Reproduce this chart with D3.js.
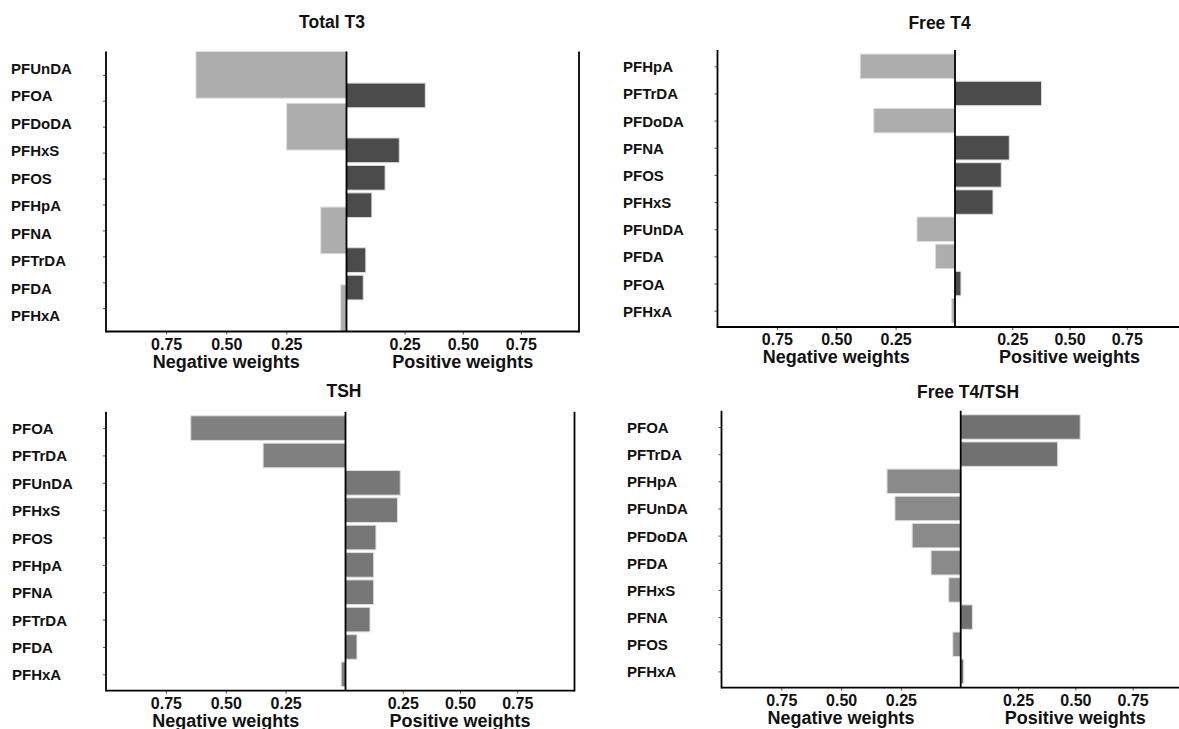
<!DOCTYPE html>
<html>
<head>
<meta charset="utf-8">
<script src="https://cdn.jsdelivr.net/npm/d3@7"></script>
<style>
  body { margin: 0; background: #fff; }
  svg text { font-family: "Liberation Sans", Arial, sans-serif; font-weight: bold; fill: #111; }
</style>
</head>
<body>
<svg id="chart" width="1179" height="729"></svg>
<script>
// Weights: negative sign = "Negative weights" side
const totalT3Labels = ['PFUnDA', 'PFOA', 'PFDoDA', 'PFHxS', 'PFOS', 'PFHpA', 'PFNA', 'PFTrDA', 'PFDA', 'PFHxA'];
const totalT3Weights = [-0.626, 0.339, -0.249, 0.227, 0.166, 0.109, -0.107, 0.083, 0.072, -0.024];

const freeT4Labels = ['PFHpA', 'PFTrDA', 'PFDoDA', 'PFNA', 'PFOS', 'PFHxS', 'PFUnDA', 'PFDA', 'PFOA', 'PFHxA'];
const freeT4Weights = [-0.399, 0.378, -0.342, 0.237, 0.202, 0.166, -0.160, -0.082, 0.026, -0.014];

const tshLabels = ['PFOA', 'PFTrDA', 'PFUnDA', 'PFHxS', 'PFOS', 'PFHpA', 'PFNA', 'PFTrDA', 'PFDA', 'PFHxA'];
const tshWeights = [-0.646, -0.344, 0.239, 0.227, 0.133, 0.123, 0.123, 0.107, 0.050, -0.018];

const ratioLabels = ['PFOA', 'PFTrDA', 'PFHpA', 'PFUnDA', 'PFDoDA', 'PFDA', 'PFHxS', 'PFNA', 'PFOS', 'PFHxA'];
const ratioWeights = [0.521, 0.423, -0.308, -0.275, -0.203, -0.124, -0.050, 0.051, -0.033, 0.013];

const weightTicks = [0.25, 0.50, 0.75];
const sideTitles = ['Negative weights', 'Positive weights'];

// layout of the four panels (pixels)
const panels = [
  { title: 'Total T3', labels: totalT3Labels, weights: totalT3Weights, neg: '#adadad', pos: '#4b4b4b',
    left: 106, center: 346.5, right: 579, top: 51.5, bottom: 331.5, labelX: 11, titleX: 332, titleY: 28 },
  { title: 'Free T4', labels: freeT4Labels, weights: freeT4Weights, neg: '#adadad', pos: '#4b4b4b',
    left: 717.5, center: 955, right: 1184, top: 50, bottom: 327, labelX: 623, titleX: 939.5, titleY: 29 },
  { title: 'TSH', labels: tshLabels, weights: tshWeights, neg: '#808080', pos: '#777777',
    left: 106, center: 345.5, right: 574.5, top: 411.7, bottom: 690.7, labelX: 12, titleX: 344, titleY: 397 },
  { title: 'Free T4/TSH', labels: ratioLabels, weights: ratioWeights, neg: '#8a8a8a', pos: '#717171',
    left: 721.5, center: 960.7, right: 1190, top: 410.7, bottom: 687.7, labelX: 627, titleX: 968, titleY: 398 }
];

const svg = d3.select('#chart');

function drawPanel(p) {
  const g = svg.append('g');
  const n = p.labels.length;
  const rows = d3.range(1, n + 1);

  const negX = d3.scaleLinear().domain([0, 1]).range([p.center, p.left]);
  const posX = d3.scaleLinear().domain([0, 1]).range([p.center, p.right]);

  // each side is its own ggplot-like panel: bar width = 0.9 * smallest gap between its rows
  function sideScale(sign) {
    const idx = rows.filter((r, i) => Math.sign(p.weights[i]) === sign);
    const gaps = d3.pairs(idx).map(d => d[1] - d[0]);
    const w = 0.9 * (gaps.length ? d3.min(gaps) : 1);
    const lo = Math.min(0.4, d3.min(idx) - w / 2);
    const hi = Math.max(n + 0.6, d3.max(idx) + w / 2);
    return { y: d3.scaleLinear().domain([lo, hi]).range([p.top, p.bottom]), w: w };
  }
  const negSide = sideScale(-1);
  const posSide = sideScale(1);
  const labelY = d3.scaleLinear().domain([0.4, n + 0.6]).range([p.top, p.bottom]);

  const bars = rows.map((r, i) => ({ row: r, v: p.weights[i] }));

  g.selectAll('rect.bar')
    .data(bars)
    .enter()
    .append('rect')
    .attr('class', 'bar')
    .attr('x', d => d.v < 0 ? negX(-d.v) : p.center)
    .attr('width', d => d.v < 0 ? p.center - negX(-d.v) : posX(d.v) - p.center)
    .attr('y', d => {
      const s = d.v < 0 ? negSide : posSide;
      return s.y(d.row - s.w / 2);
    })
    .attr('height', d => {
      const s = d.v < 0 ? negSide : posSide;
      return s.y(d.row + s.w / 2) - s.y(d.row - s.w / 2);
    })
    .attr('fill', d => d.v < 0 ? p.neg : p.pos)
    .attr('stroke', '#dedede')
    .attr('stroke-width', 1);

  // y axis (ticks of the negative panel), labels drawn separately
  const yAxis = g.append('g')
    .attr('transform', `translate(${p.left},0)`)
    .call(d3.axisLeft(negSide.y).tickValues(rows).tickFormat('').tickSize(3).tickSizeOuter(0));
  yAxis.select('.domain').remove();
  yAxis.selectAll('.tick line').attr('stroke', '#555').attr('stroke-width', 1);

  g.selectAll('text.ylab')
    .data(p.labels)
    .enter()
    .append('text')
    .attr('class', 'ylab')
    .attr('x', p.labelX)
    .attr('y', (d, i) => labelY(i + 1) + 6)
    .style('font-size', '15px')
    .text(d => d);

  // bottom axes, one per side
  [[negX, p.left, p.center], [posX, p.center, p.right]].forEach(([sc, a, b], k) => {
    const ax = g.append('g')
      .attr('transform', `translate(0,${p.bottom})`)
      .call(d3.axisBottom(sc).tickValues(weightTicks).tickFormat(d3.format('.2f')).tickSize(3).tickSizeOuter(0));
    ax.select('.domain').remove();
    ax.selectAll('.tick line').attr('stroke', '#555');
    ax.selectAll('.tick text')
      .attr('y', 0)
      .attr('dy', 0)
      .attr('transform', 'translate(0,18)')
      .style('font-size', '16px')
      .style('font-family', '"Liberation Sans", Arial, sans-serif')
      .style('font-weight', 'bold')
      .attr('fill', '#111');

    g.append('text')
      .attr('x', (a + b) / 2)
      .attr('y', p.bottom + 36)
      .attr('text-anchor', 'middle')
      .style('font-size', '18px')
      .text(sideTitles[k]);
  });

  // frame lines
  const line = (x1, y1, x2, y2) => g.append('line')
    .attr('x1', x1).attr('y1', y1).attr('x2', x2).attr('y2', y2)
    .attr('stroke', '#000').attr('stroke-width', 1.8);
  line(p.left, p.top, p.left, p.bottom + 0.9);
  line(p.left, p.bottom, p.right, p.bottom);
  line(p.center, p.top, p.center, p.bottom);
  line(p.right, p.top, p.right, p.bottom + 0.9);

  g.append('text')
    .attr('x', p.titleX)
    .attr('y', p.titleY)
    .attr('text-anchor', 'middle')
    .style('font-size', '17.5px')
    .text(p.title);
}

panels.forEach(drawPanel);
</script>
</body>
</html>
